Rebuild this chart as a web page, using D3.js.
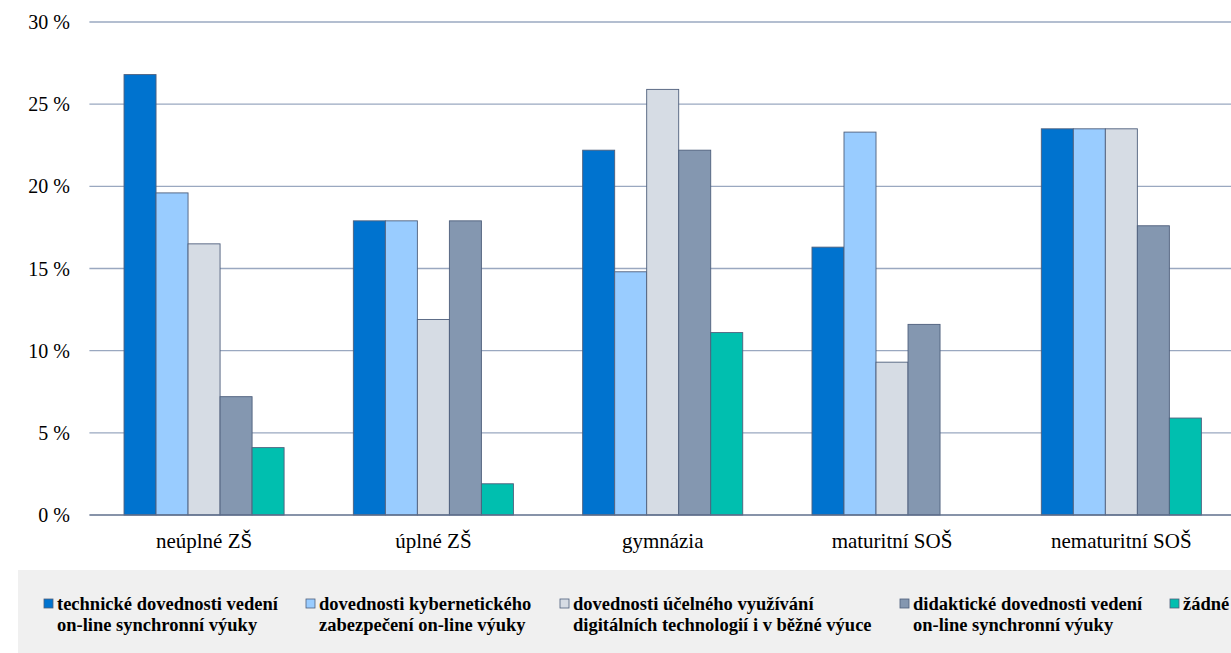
<!DOCTYPE html>
<html>
<head>
<meta charset="utf-8">
<script src="https://cdn.jsdelivr.net/npm/d3@7"></script>
<style>
  html, body { margin: 0; padding: 0; background: #fff; }
  svg { display: block; }
</style>
</head>
<body>
<svg id="chart" width="1231" height="653"></svg>
<script>
const categories = ["neúplné ZŠ", "úplné ZŠ", "gymnázia", "maturitní SOŠ", "nematuritní SOŠ"];
const seriesNames = [
  ["technické dovednosti vedení", "on-line synchronní výuky"],
  ["dovednosti kybernetického", "zabezpečení on-line výuky"],
  ["dovednosti účelného využívání", "digitálních technologií i v běžné výuce"],
  ["didaktické dovednosti vedení", "on-line synchronní výuky"],
  ["žádné"]
];
const technicke = [26.8, 17.9, 22.2, 16.3, 23.5];
const kyber = [19.6, 17.9, 14.8, 23.3, 23.5];
const ucelne = [16.5, 11.9, 25.9, 9.3, 23.5];
const didakticke = [7.2, 17.9, 22.2, 11.6, 17.6];
const zadne = [4.1, 1.9, 11.1, 0, 5.9];
const yTicks = [0, 5, 10, 15, 20, 25, 30];
const colors = ["#0073CF", "#99CCFF", "#D6DCE4", "#8497B0", "#00BFAF"];

const series = [technicke, kyber, ucelne, didakticke, zadne];
const FONT = "'Liberation Serif', 'Times New Roman', Times, serif";

const svg = d3.select("#chart").attr("font-family", FONT);
const plotLeft = 89.4, plotRight = 1236, yTop = 22, yBottom = 515;

const x0 = d3.scaleBand().domain(categories).range([plotLeft, plotRight]).paddingInner(0.302).paddingOuter(0.151);
const x1 = d3.scaleBand().domain(d3.range(series.length)).range([0, x0.bandwidth()]);
const y = d3.scaleLinear().domain([0, 30]).range([yBottom, yTop]);

// gridlines
svg.append("g").selectAll("line").data(yTicks.filter(t => t > 0)).join("line")
  .attr("x1", plotLeft).attr("x2", 1231)
  .attr("y1", d => y(d)).attr("y2", d => y(d))
  .attr("stroke", "#9AA8C0").attr("stroke-width", 1.3);

// y labels
svg.append("g").selectAll("text").data(yTicks).join("text")
  .attr("x", 70).attr("y", d => y(d)).attr("dy", "0.35em")
  .attr("text-anchor", "end").attr("font-size", 20).attr("fill", "#000")
  .text(d => d + " %");

// bars
const groups = svg.append("g").selectAll("g").data(categories).join("g")
  .attr("transform", d => `translate(${x0(d)},0)`);
groups.selectAll("rect").data((d, i) => series.map((s, j) => ({ j, v: s[i] })).filter(o => o.v > 0)).join("rect")
  .attr("x", d => x1(d.j)).attr("width", x1.bandwidth())
  .attr("y", d => y(d.v)).attr("height", d => y(0) - y(d.v))
  .attr("fill", d => colors[d.j])
  .attr("stroke", "#4E5F7C").attr("stroke-width", 0.9);

// baseline axis
svg.append("line").attr("x1", plotLeft).attr("x2", 1231).attr("y1", y(0)).attr("y2", y(0))
  .attr("stroke", "#5F6F8C").attr("stroke-width", 1.6);

// category labels
svg.append("g").selectAll("text").data(categories).join("text")
  .attr("x", d => x0(d) + x0.bandwidth() / 2).attr("y", 548)
  .attr("text-anchor", "middle").attr("font-size", 21).attr("fill", "#000")
  .text(d => d);

// legend
svg.append("rect").attr("x", 18).attr("y", 570).attr("width", 1231 - 18).attr("height", 83).attr("fill", "#F0F0F0");
const legendX = [44, 306, 560, 900, 1170];
const leg = svg.append("g").selectAll("g").data(seriesNames).join("g")
  .attr("transform", (d, i) => `translate(${legendX[i]},0)`);
leg.append("rect").attr("x", 0).attr("y", 599).attr("width", 9).attr("height", 9)
  .attr("fill", (d, i) => colors[i]).attr("stroke", "#4E5F7C").attr("stroke-width", 0.8);
leg.each(function(d) {
  const g = d3.select(this);
  d.forEach((line, k) => {
    g.append("text").attr("x", 13).attr("y", 610 + k * 21)
      .attr("font-size", 18.5).attr("font-weight", "bold").attr("fill", "#000")
      .text(line);
  });
});
</script>
</body>
</html>
